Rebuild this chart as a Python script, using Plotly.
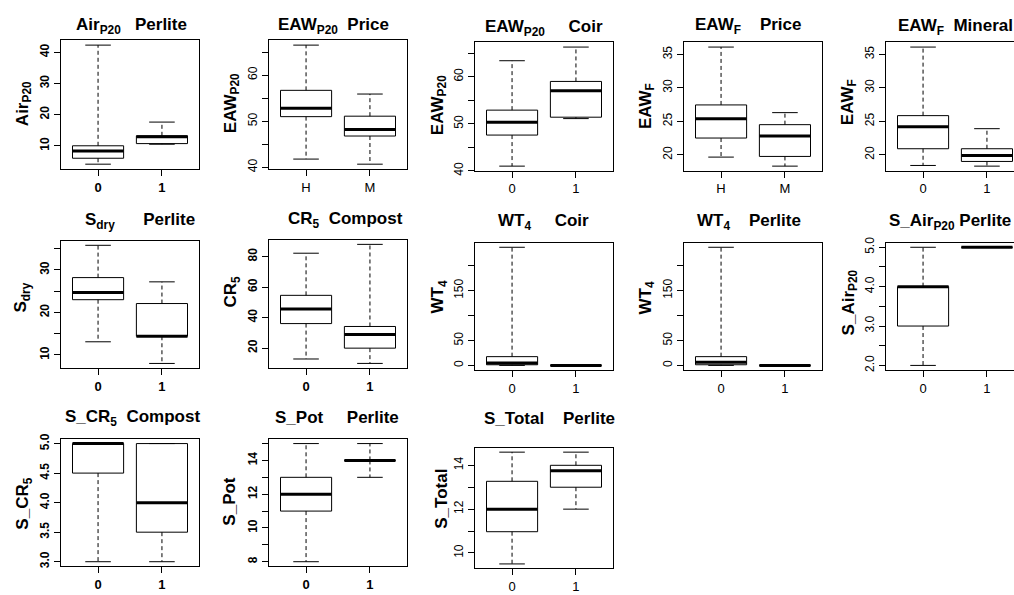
import plotly.graph_objects as go

# ---------------- data ----------------
variables = ["Air<sub>P20</sub>", "EAW<sub>P20</sub>", "EAW<sub>P20</sub>", "EAW<sub>F</sub>", "EAW<sub>F</sub>",
             "S<sub>dry</sub>", "CR<sub>5</sub>", "WT<sub>4</sub>", "WT<sub>4</sub>", "S_Air<sub>P20</sub>",
             "S_CR<sub>5</sub>", "S_Pot", "S_Total"]
factors = ["Perlite", "Price", "Coir", "Price", "Mineral",
           "Perlite", "Compost", "Coir", "Perlite", "Perlite",
           "Compost", "Perlite", "Perlite"]
groups = [["0", "1"], ["H", "M"], ["0", "1"], ["H", "M"], ["0", "1"],
          ["0", "1"], ["0", "1"], ["0", "1"], ["0", "1"], ["0", "1"],
          ["0", "1"], ["0", "1"], ["0", "1"]]
lower = [[4.1, 10.5], [41.8, 40.7], [41.0, 51.1], [19.65, 18.3], [18.4, 18.3],
         [13.1, 8.0], [12.9, 10.0], [0, 0], [0, 0], [2.0, 5.0],
         [3.0, 3.0], [8, 13], [9.5, 12]]
q1 = [[6.0, 10.7], [51.0, 46.8], [47.6, 51.4], [22.5, 19.75], [20.9, 19.0],
      [23.0, 14.4], [36.1, 20.0], [1.3, 0], [1.3, 0], [3.0, 5.0],
      [4.5, 3.5], [11, 14], [10.97, 13]]
median = [[8.3, 12.9], [52.8, 48.2], [50.3, 57.0], [25.4, 22.8], [24.2, 19.9],
          [24.7, 14.4], [45.6, 29.0], [4.6, 0], [6.5, 0], [4.0, 5.0],
          [5.0, 4.0], [12, 14], [12, 13.75]]
q3 = [[10.0, 13.2], [56.7, 51.1], [52.9, 59.0], [27.45, 24.5], [25.85, 20.9],
      [28.2, 22.1], [54.6, 34.2], [17.6, 0], [17.6, 0], [4.0, 5.0],
      [5.0, 5.0], [13, 14], [13.27, 14]]
upper = [[42.3, 17.6], [66.5, 55.9], [63.4, 66.3], [36.1, 26.3], [36.1, 23.9],
         [35.8, 27.2], [82.2, 88.0], [237, 0], [237, 0], [5.0, 5.0],
         [5.0, 5.0], [15, 15], [14.6, 14.6]]
tick_values = [[10, 20, 30, 40], [40, 45, 50, 55, 60, 65], [40, 45, 50, 55, 60, 65], [20, 25, 30, 35], [20, 25, 30, 35],
               [10, 15, 20, 25, 30, 35], [20, 40, 60, 80], [0, 50, 100, 150, 200], [0, 50, 100, 150, 200],
               [2.0, 2.5, 3.0, 3.5, 4.0, 4.5, 5.0],
               [3.0, 3.5, 4.0, 4.5, 5.0], [8, 9, 10, 11, 12, 13, 14, 15], [10, 11, 12, 13, 14]]
tick_labels = [["10", "20", "30", "40"], ["40", "", "50", "", "60", ""], ["40", "", "50", "", "60", ""],
               ["20", "25", "30", "35"], ["20", "25", "30", "35"],
               ["10", "", "20", "", "30", ""], ["20", "40", "60", "80"], ["0", "50", "", "150", ""],
               ["0", "50", "", "150", ""], ["2.0", "", "3.0", "", "4.0", "", "5.0"],
               ["3.0", "3.5", "4.0", "4.5", "5.0"], ["8", "", "10", "", "12", "", "14", ""],
               ["10", "", "12", "", "14"]]

# ---------------- layout / style (pixels) ----------------
W, H = 1014, 595
# frame: left, right, top, bottom
frames = [(61, 199, 35, 166), (269, 407, 35, 166), (475, 613, 37, 168), (684, 822, 37, 168), (886, 1024, 37, 168),
          (61, 199, 239, 369), (269, 407, 238, 369), (475, 613, 241, 371), (684, 822, 241, 371), (886, 1024, 241, 371),
          (61, 199, 441, 571), (269, 407, 441, 571), (475, 613, 450, 573)]
title_left = [74, 276, 483, 693, 896, 83, 286, 496, 695, 887, 63, 273, 482]
title_cy = [20, 20, 22, 20, 21, 219, 218, 220, 220, 220, 420, 419, 420]
title_gap = [3, 2, 5, 4, 2, 6, 2, 5, 4, 1, 2, 5, 4]
ylab_cx = [24, 232, 439, 647, 849, 22, 232, 439, 647, 850, 24, 230, 442]
ylab_cy = [100, 99, 101, 102, 98, 297, 291, 297, 298, 302, 507, 505, 502]
bold_ticks = [True, False, False, False, False, True, True, False, False, False, True, True, False]

FONT = "Liberation Sans"
fig = go.Figure()
layout = dict(width=W, height=H, margin=dict(l=0, r=0, t=0, b=0),
              paper_bgcolor="white", plot_bgcolor="white", showlegend=False,
              font=dict(family=FONT, color="black"))
annotations = []
bw, cw = 0.4, 0.2

for k in range(13):
    n = "" if k == 0 else str(k + 1)
    xa, ya = "x" + n, "y" + n
    L, R, T, B = frames[k]
    full_w = R - L
    Rv = min(R, W)
    xlo, xhi = 0.42, 2.58
    xhi_v = xlo + (xhi - xlo) * (Rv - L) / full_w
    lo, hi = min(lower[k]), max(upper[k])
    pad = 0.04 * (hi - lo)
    yr = [lo - pad, hi + pad]

    for i in range(2):
        x = i + 1
        fig.add_trace(go.Scatter(x=[x, x, None, x, x], y=[q3[k][i], upper[k][i], None, q1[k][i], lower[k][i]],
                                 mode="lines", line=dict(color="black", width=1, dash="4px,3px"),
                                 xaxis=xa, yaxis=ya, hoverinfo="skip"))
        fig.add_trace(go.Scatter(x=[x - cw, x + cw, None, x - cw, x + cw],
                                 y=[upper[k][i], upper[k][i], None, lower[k][i], lower[k][i]],
                                 mode="lines", line=dict(color="black", width=1),
                                 xaxis=xa, yaxis=ya, hoverinfo="skip"))
        fig.add_trace(go.Scatter(x=[x - bw, x + bw, x + bw, x - bw, x - bw],
                                 y=[q1[k][i], q1[k][i], q3[k][i], q3[k][i], q1[k][i]],
                                 mode="lines", line=dict(color="black", width=1),
                                 xaxis=xa, yaxis=ya, hoverinfo="skip"))
        fig.add_trace(go.Scatter(x=[x - bw, x + bw], y=[median[k][i], median[k][i]],
                                 mode="lines", line=dict(color="black", width=3),
                                 xaxis=xa, yaxis=ya, hoverinfo="skip"))

    tf = dict(family=FONT, size=12, color="black", weight="bold" if bold_ticks[k] else "normal")
    xf = dict(family=FONT, size=13, color="black", weight="bold" if bold_ticks[k] else "normal")
    layout["xaxis" + n] = dict(domain=[L / W, Rv / W], range=[xlo, xhi_v], anchor=ya,
                               tickvals=[1, 2], ticktext=groups[k], ticks="outside", ticklen=6,
                               tickwidth=1, tickcolor="black", showline=True, linecolor="black",
                               linewidth=1, mirror=True, showgrid=False, zeroline=False,
                               tickfont=xf, fixedrange=True)
    layout["yaxis" + n] = dict(domain=[1 - B / H, 1 - T / H], range=yr, anchor=xa,
                               tickvals=tick_values[k], ticktext=tick_labels[k], tickangle=-90,
                               ticks="outside", ticklen=6, tickwidth=1, tickcolor="black",
                               showline=True, linecolor="black", linewidth=1,
                               mirror=(R <= W), showgrid=False, zeroline=False,
                               tickfont=tf, fixedrange=True)
    gap = "\u00a0" * title_gap[k]
    annotations.append(dict(text=variables[k] + gap + factors[k], xref="paper", yref="paper",
                            x=title_left[k] / W, y=1 - title_cy[k] / H, xanchor="left", yanchor="middle",
                            showarrow=False, font=dict(family=FONT, size=17, color="black", weight="bold")))
    annotations.append(dict(text=variables[k], xref="paper", yref="paper",
                            x=ylab_cx[k] / W, y=1 - ylab_cy[k] / H, xanchor="center", yanchor="middle",
                            textangle=-90, showarrow=False,
                            font=dict(family=FONT, size=17, color="black", weight="bold")))

layout["annotations"] = annotations
fig.update_layout(**layout)
fig.write_html("out.html", config={"displayModeBar": False},
               post_script="document.body.style.margin='0px';document.body.style.overflow='hidden';")
